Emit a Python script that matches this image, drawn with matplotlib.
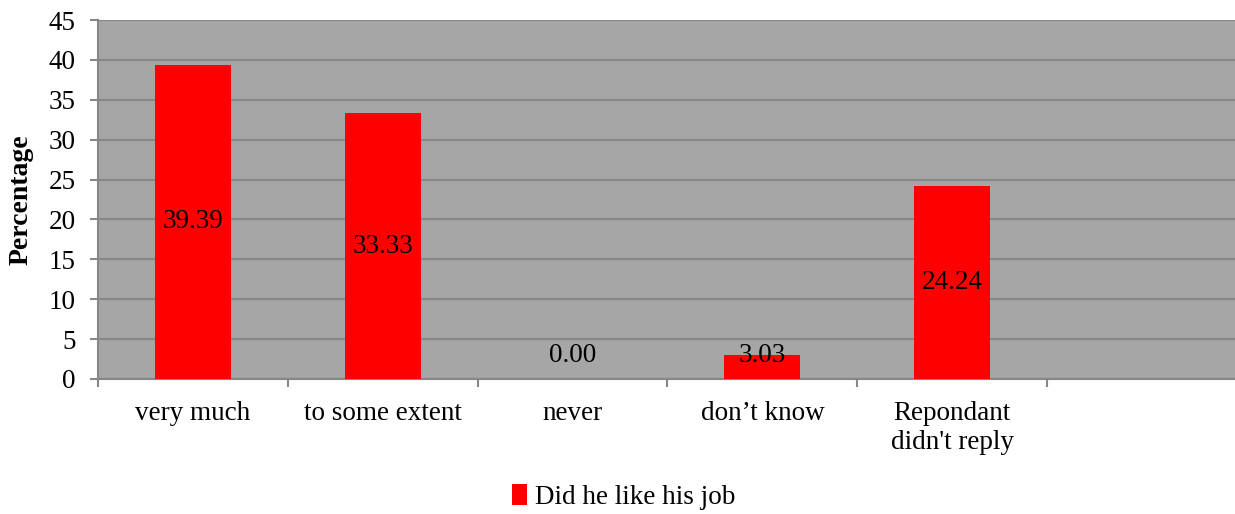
import numpy as np
import matplotlib.pyplot as plt

# data
categories = ["very much", "to some extent", "never", "don\u2019t know", "Repondant\ndidn't reply"]
values = [39.39, 33.33, 0.00, 3.03, 24.24]
series_name = "Did he like his job"
yticks = [0, 5, 10, 15, 20, 25, 30, 35, 40, 45]

plt.rcParams['font.family'] = ['Liberation Serif', 'DejaVu Serif']
fs = 19.5

fig = plt.figure(figsize=(12.35, 5.14), dpi=100)
ax = fig.add_axes([98 / 1235, 1 - 379 / 514, 1139 / 1235, 359 / 514])

grid_c = '#878787'
ax.set_facecolor('#a6a6a6')
x = np.arange(len(categories))
bars = ax.bar(x, values, width=0.4, color='#ff0000', zorder=3, label=series_name)

for xi, v in zip(x, values):
    ax.text(xi, max(v / 2, 3.0), f"{v:.2f}", ha='center', va='center',
            fontsize=fs, color='black', zorder=4)

ax.set_xlim(-0.5, 5.5)
ax.set_ylim(0, 45)
ax.set_yticks(yticks)
ax.set_yticklabels([str(t) for t in yticks], fontsize=fs)
ax.yaxis.grid(True, color=grid_c, linewidth=1.6, zorder=1)
ax.set_axisbelow(True)

ax.set_xticks(np.arange(-0.5, 5.5, 1.0))
ax.set_xticklabels([])
ax.set_xticks(x, minor=True)
ax.set_xticklabels(categories, minor=True, fontsize=fs, linespacing=1.2)
ax.tick_params(axis='x', which='minor', length=0, pad=16)
ax.tick_params(axis='x', which='major', length=6, color=grid_c, width=1.5)
ax.tick_params(axis='y', length=6, color=grid_c, width=1.5, pad=10)

for s in ['top', 'right']:
    ax.spines[s].set_visible(False)
for s in ['left', 'bottom']:
    ax.spines[s].set_color(grid_c)
    ax.spines[s].set_linewidth(1.5)

ax.set_ylabel("Percentage", fontsize=20, fontweight='bold')
ax.yaxis.set_label_coords(-64 / 1139, 0.5)

fig.legend(handles=[bars], labels=[series_name], loc='center',
           bbox_to_anchor=(624 / 1235, 1 - 497 / 514), frameon=False, fontsize=fs,
           handlelength=0.55, handleheight=0.8, handletextpad=0.3)

fig.savefig("out.png", dpi=100, facecolor='white')
